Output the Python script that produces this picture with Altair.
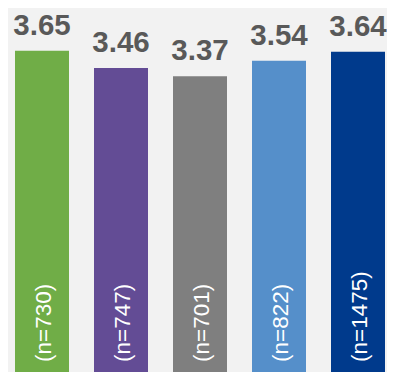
import altair as alt
import pandas as pd

groups = ["A", "B", "C", "D", "E"]
means = [3.65, 3.46, 3.37, 3.54, 3.64]
counts = ["(n=730)", "(n=747)", "(n=701)", "(n=822)", "(n=1475)"]
colors = ["#70AD47", "#634C95", "#7F7F7F", "#558FCA", "#003A8C"]

df = pd.DataFrame({"group": groups, "mean": means, "n": counts,
                   "label": [f"{m:.2f}" for m in means]})

x = alt.X("group:N", sort=groups, axis=None,
          scale=alt.Scale(range=[0, 384], paddingInner=0.3165, paddingOuter=0.0886))
y_scale = alt.Scale(domain=[0.110, 4.121], nice=False, zero=False)

base = alt.Chart(df).encode(x=x)

bars = base.mark_bar().encode(
    y=alt.Y("mean:Q", scale=y_scale, axis=None),
    color=alt.Color("group:N", scale=alt.Scale(domain=groups, range=colors), legend=None),
)

values = base.mark_text(font="Liberation Sans", fontWeight="bold", fontSize=29.5,
                        color="#595959", baseline="alphabetic", dy=-16).encode(
    y=alt.Y("mean:Q", scale=y_scale),
    text="label:N",
)

ns = base.mark_text(font="Liberation Sans", fontSize=22.5, color="white",
                    angle=270, align="left", baseline="middle", dx=20, dy=2).encode(
    y=alt.YDatum(0, scale=y_scale),
    text="n:N",
)

chart = alt.layer(bars, values, ns).properties(
    width=379, height=364,
    autosize=alt.AutoSizeParams(type="none"),
    padding=0,
    background="#F2F2F2",
).configure_view(stroke=None)

chart.save("out.html", embed_options={"renderer": "svg", "actions": False})
